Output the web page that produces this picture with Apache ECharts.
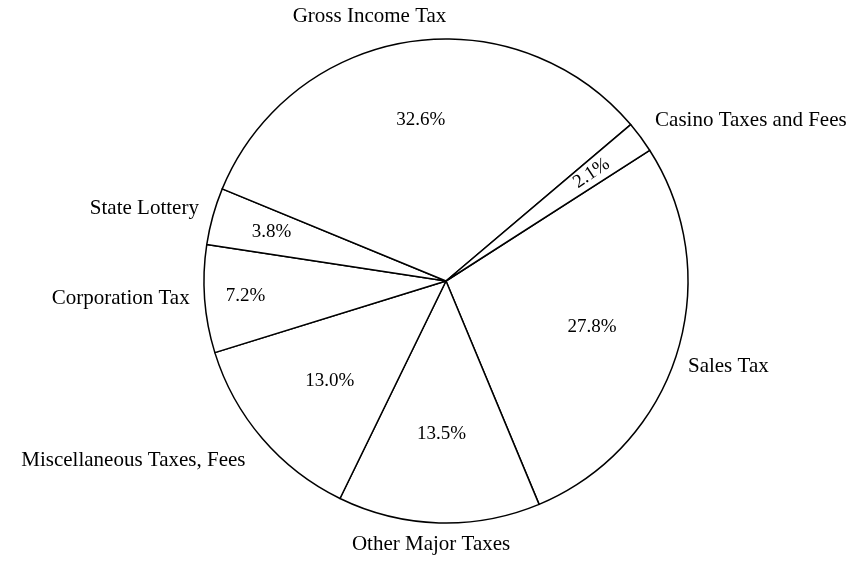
<!DOCTYPE html>
<html>
<head>
<meta charset="utf-8">
<script src="https://cdn.jsdelivr.net/npm/echarts@6/dist/echarts.min.js"></script>
<style>
  html, body { margin: 0; padding: 0; background: #fff; }
  #chart { width: 855px; height: 561px; }
</style>
</head>
<body>
<div id="chart"></div>
<script>
// slices in clockwise order, starting from the Casino / Sales boundary
const categories = ['Sales Tax', 'Other Major Taxes', 'Miscellaneous Taxes, Fees',
  'Corporation Tax', 'State Lottery', 'Gross Income Tax', 'Casino Taxes and Fees'];
const shares = [27.8, 13.5, 13.0, 7.2, 3.8, 32.6, 2.1];

// label placement (outer name labels and inner percentages)
const nameLen = [45, 22, 34, -5, 29, 26, 28];
const nameLen2 = [-32, -72, -9, 20, -14, -42, -8];
const pctRadius = [150, 150, 150, 198, 178, 160, 178];
const pctRotate = [0, 0, 0, 0, 0, 0, 34];

const CX = 446, CY = 281, R = 242, START = 32.7;
const FONT = 'Liberation Serif';

const chart = echarts.init(document.getElementById('chart'));

const series = [{
  type: 'pie',
  center: [CX, CY],
  radius: [0, R],
  startAngle: START,
  clockwise: true,
  avoidLabelOverlap: false,
  silent: true,
  animation: false,
  itemStyle: { color: '#fff', borderColor: '#000', borderWidth: 1.5 },
  label: {
    show: true, position: 'outside', color: '#000',
    fontFamily: FONT, fontSize: 21, distanceToLabelLine: 0,
    bleedMargin: 0, overflow: 'none',
    formatter: p => p.name
  },
  labelLine: { show: false },
  data: categories.map((c, i) => ({
    name: c, value: shares[i],
    labelLine: { show: false, length: nameLen[i], length2: nameLen2[i] }
  }))
}];

// one transparent pie per label radius, so the percentages sit where they do in the original
[...new Set(pctRadius)].forEach(rl => {
  series.push({
    type: 'pie',
    center: [CX, CY],
    radius: [2 * rl - R, R],
    startAngle: START,
    clockwise: true,
    silent: true,
    animation: false,
    avoidLabelOverlap: false,
    itemStyle: { color: 'rgba(0,0,0,0)', borderWidth: 0 },
    labelLine: { show: false },
    data: categories.map((c, i) => ({
      name: c, value: shares[i],
      label: {
        show: pctRadius[i] === rl, position: 'inside', color: '#000',
        fontFamily: FONT, fontSize: 19, rotate: pctRotate[i],
        formatter: p => p.value.toFixed(1) + '%'
      }
    }))
  });
});

chart.setOption({ backgroundColor: '#fff', series: series });
</script>
</body>
</html>
